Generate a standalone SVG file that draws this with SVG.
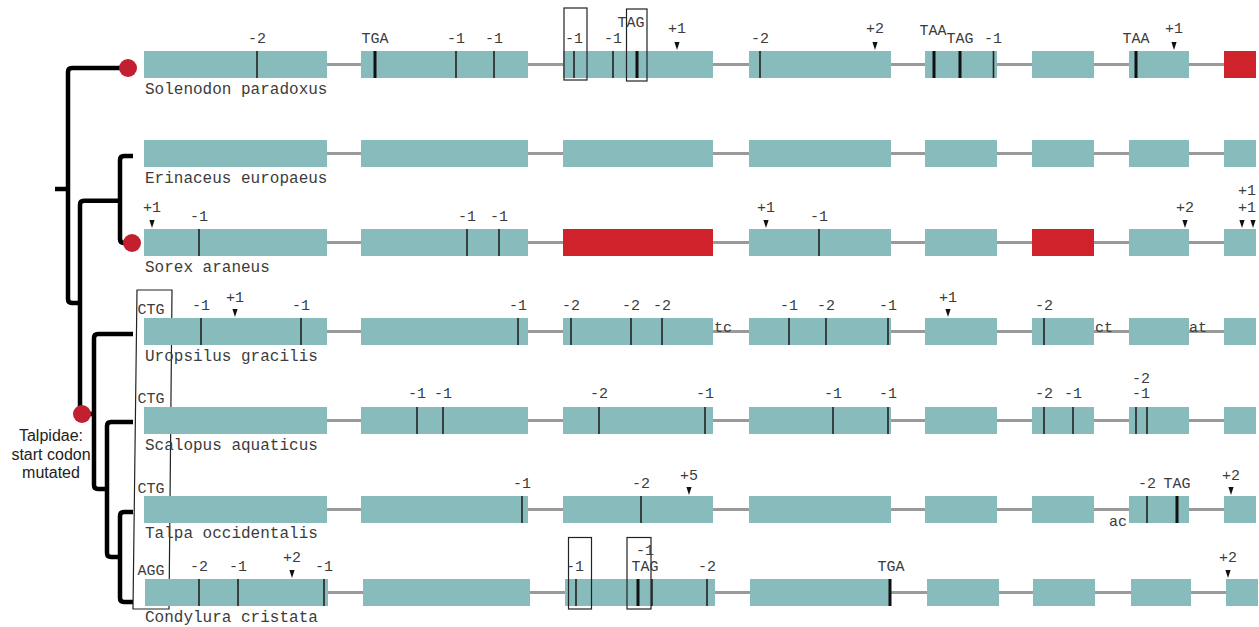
<svg xmlns="http://www.w3.org/2000/svg" width="1259" height="627" viewBox="0 0 1259 627">
<style>
.ex{fill:#88BBBB}
.rd{fill:#D0222B}
.in{stroke:#9a9a9a;stroke-width:3}
.fs{stroke:#222;stroke-width:1.6}
.st{stroke:#111;stroke-width:3}
.tri{fill:#111}
.lb{font-family:"Liberation Mono",monospace;font-size:15px;fill:#3c3c3c;text-anchor:middle}
.ls{font-family:"Liberation Mono",monospace;font-size:15px;fill:#3c3c3c}
.sp{font-family:"Liberation Mono",monospace;font-size:16px;fill:#3c3c3c}
.bx{fill:none;stroke:#222;stroke-width:1.2}
.tr{fill:none;stroke:#000;stroke-width:4.5}
.nd{fill:#C21F30}
.tl{font-family:"Liberation Sans",Arial,sans-serif;font-size:16px;fill:#222;text-anchor:middle}
</style>
<defs>
<polygon id="tri" points="-2.6,-9 2.6,-9 0,-1" class="tri"/>
</defs>
<rect width="1259" height="627" fill="#fff"/>

<g id="connectors">
<path class="tr" d="M128,68 H72 Q68,68 68,72 V299 Q68,303 72,303 H80"/>
<path class="tr" d="M55,189 H68"/>
<path class="tr" d="M120,200.7 H84 Q80,200.7 80,204.7 V414 M80,414 H94"/>
<path class="tr" d="M133,156 H124 Q120,156 120,160 V239 Q120,243 124,243 H132"/>
<path class="tr" d="M133,334 H98 Q94,334 94,338 V485 Q94,489 98,489 H107"/>
<path class="tr" d="M133,422 H111 Q107,422 107,426 V553 Q107,557 111,557 H120"/>
<path class="tr" d="M133,512 H124 Q120,512 120,516 V598 Q120,602 124,602 H133"/>
<circle class="nd" cx="128" cy="68" r="9"/>
<circle class="nd" cx="132" cy="243" r="9"/>
<circle class="nd" cx="82" cy="414" r="9"/>
</g>

<g id="talpidae-note">
<text class="tl" x="51" y="441">Talpidae:</text>
<text class="tl" x="51" y="459.5">start codon</text>
<text class="tl" x="51" y="478">mutated</text>
</g>

<g id="start-box"><polygon class="bx" points="137,290 172,290 169,609 133,609"/></g>

<!-- Row 1 Solenodon -->
<g id="solenodon">
<g class="in"><line x1="327" y1="64.5" x2="361" y2="64.5"/><line x1="528" y1="64.5" x2="563" y2="64.5"/><line x1="713" y1="64.5" x2="749" y2="64.5"/><line x1="891" y1="64.5" x2="925" y2="64.5"/><line x1="997" y1="64.5" x2="1032" y2="64.5"/><line x1="1094" y1="64.5" x2="1129" y2="64.5"/><line x1="1189" y1="64.5" x2="1224" y2="64.5"/></g>
<rect class="ex" x="144" y="51" width="183" height="27"/><rect class="ex" x="361" y="51" width="167" height="27"/><rect class="ex" x="563" y="51" width="150" height="27"/><rect class="ex" x="749" y="51" width="142" height="27"/><rect class="ex" x="925" y="51" width="72" height="27"/><rect class="ex" x="1032" y="51" width="62" height="27"/><rect class="ex" x="1129" y="51" width="60" height="27"/><rect class="rd" x="1224" y="51" width="32" height="27"/>
<g class="fs"><line x1="257" y1="51" x2="257" y2="78"/><line x1="456" y1="51" x2="456" y2="78"/><line x1="494" y1="51" x2="494" y2="78"/><line x1="574" y1="51" x2="574" y2="78"/><line x1="613" y1="51" x2="613" y2="78"/><line x1="760" y1="51" x2="760" y2="78"/><line x1="993.5" y1="51" x2="993.5" y2="78"/></g>
<g class="st"><line x1="375" y1="51" x2="375" y2="78"/><line x1="637" y1="51" x2="637" y2="78"/><line x1="934" y1="51" x2="934" y2="78"/><line x1="960" y1="51" x2="960" y2="78"/><line x1="1136" y1="51" x2="1136" y2="78"/></g>
<use href="#tri" x="677" y="51"/><use href="#tri" x="875" y="51"/><use href="#tri" x="1174" y="51"/>
<rect class="bx" x="564" y="8" width="23" height="72"/><rect class="bx" x="626.5" y="9" width="20.5" height="72"/>
<text class="lb" x="257" y="43">-2</text><text class="lb" x="375" y="43">TGA</text><text class="lb" x="456" y="43">-1</text><text class="lb" x="494" y="43">-1</text><text class="lb" x="574" y="43">-1</text><text class="lb" x="613" y="43">-1</text><text class="lb" x="631" y="27">TAG</text><text class="lb" x="677" y="33">+1</text><text class="lb" x="760" y="43">-2</text><text class="lb" x="875" y="33">+2</text><text class="lb" x="933" y="35">TAA</text><text class="lb" x="960" y="43">TAG</text><text class="lb" x="993" y="43">-1</text><text class="lb" x="1136" y="43">TAA</text><text class="lb" x="1174" y="33">+1</text>
<text class="sp" x="145" y="94">Solenodon paradoxus</text>
</g>

<!-- Row 2 Erinaceus -->
<g id="erinaceus">
<g class="in"><line x1="327" y1="153.5" x2="361" y2="153.5"/><line x1="528" y1="153.5" x2="563" y2="153.5"/><line x1="713" y1="153.5" x2="749" y2="153.5"/><line x1="891" y1="153.5" x2="925" y2="153.5"/><line x1="997" y1="153.5" x2="1032" y2="153.5"/><line x1="1094" y1="153.5" x2="1129" y2="153.5"/><line x1="1189" y1="153.5" x2="1224" y2="153.5"/></g>
<rect class="ex" x="144" y="140" width="183" height="27"/><rect class="ex" x="361" y="140" width="167" height="27"/><rect class="ex" x="563" y="140" width="150" height="27"/><rect class="ex" x="749" y="140" width="142" height="27"/><rect class="ex" x="925" y="140" width="72" height="27"/><rect class="ex" x="1032" y="140" width="62" height="27"/><rect class="ex" x="1129" y="140" width="60" height="27"/><rect class="ex" x="1224" y="140" width="32" height="27"/>
<text class="sp" x="145" y="183">Erinaceus europaeus</text>
</g>

<!-- Row 3 Sorex -->
<g id="sorex">
<g class="in"><line x1="327" y1="242.5" x2="361" y2="242.5"/><line x1="528" y1="242.5" x2="563" y2="242.5"/><line x1="713" y1="242.5" x2="749" y2="242.5"/><line x1="891" y1="242.5" x2="925" y2="242.5"/><line x1="997" y1="242.5" x2="1032" y2="242.5"/><line x1="1094" y1="242.5" x2="1129" y2="242.5"/><line x1="1189" y1="242.5" x2="1224" y2="242.5"/></g>
<rect class="ex" x="144" y="229" width="183" height="27"/><rect class="ex" x="361" y="229" width="167" height="27"/><rect class="rd" x="563" y="229" width="150" height="27"/><rect class="ex" x="749" y="229" width="142" height="27"/><rect class="ex" x="925" y="229" width="72" height="27"/><rect class="rd" x="1032" y="229" width="62" height="27"/><rect class="ex" x="1129" y="229" width="60" height="27"/><rect class="ex" x="1224" y="229" width="32" height="27"/>
<g class="fs"><line x1="199" y1="229" x2="199" y2="256"/><line x1="467" y1="229" x2="467" y2="256"/><line x1="499" y1="229" x2="499" y2="256"/><line x1="819" y1="229" x2="819" y2="256"/></g>
<use href="#tri" x="152" y="229"/><use href="#tri" x="766" y="229"/><use href="#tri" x="1185" y="229"/><use href="#tri" x="1242" y="229"/><use href="#tri" x="1253" y="229"/>
<text class="lb" x="152" y="212">+1</text><text class="lb" x="199" y="221">-1</text><text class="lb" x="467" y="221">-1</text><text class="lb" x="499" y="221">-1</text><text class="lb" x="766" y="212">+1</text><text class="lb" x="819" y="221">-1</text><text class="lb" x="1185" y="212">+2</text><text class="lb" x="1247" y="195">+1</text><text class="lb" x="1247" y="212">+1</text>
<text class="sp" x="145" y="272">Sorex araneus</text>
</g>

<!-- Row 4 Uropsilus -->
<g id="uropsilus">
<g class="in"><line x1="327" y1="331.5" x2="361" y2="331.5"/><line x1="528" y1="331.5" x2="563" y2="331.5"/><line x1="713" y1="331.5" x2="749" y2="331.5"/><line x1="891" y1="331.5" x2="925" y2="331.5"/><line x1="997" y1="331.5" x2="1032" y2="331.5"/><line x1="1094" y1="331.5" x2="1129" y2="331.5"/><line x1="1189" y1="331.5" x2="1224" y2="331.5"/></g>
<rect class="ex" x="144" y="318" width="183" height="27"/><rect class="ex" x="361" y="318" width="167" height="27"/><rect class="ex" x="563" y="318" width="150" height="27"/><rect class="ex" x="749" y="318" width="142" height="27"/><rect class="ex" x="925" y="318" width="72" height="27"/><rect class="ex" x="1032" y="318" width="62" height="27"/><rect class="ex" x="1129" y="318" width="60" height="27"/><rect class="ex" x="1224" y="318" width="32" height="27"/>
<g class="fs"><line x1="201" y1="318" x2="201" y2="345"/><line x1="301" y1="318" x2="301" y2="345"/><line x1="518" y1="318" x2="518" y2="345"/><line x1="571" y1="318" x2="571" y2="345"/><line x1="631" y1="318" x2="631" y2="345"/><line x1="662" y1="318" x2="662" y2="345"/><line x1="789" y1="318" x2="789" y2="345"/><line x1="826" y1="318" x2="826" y2="345"/><line x1="888" y1="318" x2="888" y2="345"/><line x1="1044" y1="318" x2="1044" y2="345"/></g>
<use href="#tri" x="235" y="318"/><use href="#tri" x="948" y="318"/>
<text class="lb" x="151" y="314">CTG</text>
<text class="lb" x="201" y="310">-1</text><text class="lb" x="235" y="302">+1</text><text class="lb" x="301" y="310">-1</text><text class="lb" x="518" y="310">-1</text><text class="lb" x="571" y="310">-2</text><text class="lb" x="631" y="310">-2</text><text class="lb" x="662" y="310">-2</text><text class="lb" x="789" y="310">-1</text><text class="lb" x="826" y="310">-2</text><text class="lb" x="888" y="310">-1</text><text class="lb" x="948" y="302">+1</text><text class="lb" x="1044" y="310">-2</text>
<text class="ls" x="714" y="332">tc</text><text class="ls" x="1095" y="332">ct</text><text class="ls" x="1189" y="332">at</text>
<text class="sp" x="145" y="361">Uropsilus gracilis</text>
</g>

<!-- Row 5 Scalopus -->
<g id="scalopus">
<g class="in"><line x1="327" y1="420.5" x2="361" y2="420.5"/><line x1="528" y1="420.5" x2="563" y2="420.5"/><line x1="713" y1="420.5" x2="749" y2="420.5"/><line x1="891" y1="420.5" x2="925" y2="420.5"/><line x1="997" y1="420.5" x2="1032" y2="420.5"/><line x1="1094" y1="420.5" x2="1129" y2="420.5"/><line x1="1189" y1="420.5" x2="1224" y2="420.5"/></g>
<rect class="ex" x="144" y="407" width="183" height="27"/><rect class="ex" x="361" y="407" width="167" height="27"/><rect class="ex" x="563" y="407" width="150" height="27"/><rect class="ex" x="749" y="407" width="142" height="27"/><rect class="ex" x="925" y="407" width="72" height="27"/><rect class="ex" x="1032" y="407" width="62" height="27"/><rect class="ex" x="1129" y="407" width="60" height="27"/><rect class="ex" x="1224" y="407" width="32" height="27"/>
<g class="fs"><line x1="417" y1="407" x2="417" y2="434"/><line x1="443" y1="407" x2="443" y2="434"/><line x1="599" y1="407" x2="599" y2="434"/><line x1="705" y1="407" x2="705" y2="434"/><line x1="833" y1="407" x2="833" y2="434"/><line x1="888" y1="407" x2="888" y2="434"/><line x1="1044" y1="407" x2="1044" y2="434"/><line x1="1073" y1="407" x2="1073" y2="434"/><line x1="1136" y1="407" x2="1136" y2="434"/><line x1="1147" y1="407" x2="1147" y2="434"/></g>
<text class="lb" x="151" y="403">CTG</text>
<text class="lb" x="417" y="398">-1</text><text class="lb" x="443" y="398">-1</text><text class="lb" x="599" y="398">-2</text><text class="lb" x="705" y="398">-1</text><text class="lb" x="833" y="398">-1</text><text class="lb" x="888" y="398">-1</text><text class="lb" x="1044" y="398">-2</text><text class="lb" x="1073" y="398">-1</text><text class="lb" x="1141" y="383">-2</text><text class="lb" x="1141" y="398">-1</text>
<text class="sp" x="145" y="450">Scalopus aquaticus</text>
</g>

<!-- Row 6 Talpa -->
<g id="talpa">
<g class="in"><line x1="327" y1="509.5" x2="361" y2="509.5"/><line x1="528" y1="509.5" x2="563" y2="509.5"/><line x1="713" y1="509.5" x2="749" y2="509.5"/><line x1="891" y1="509.5" x2="925" y2="509.5"/><line x1="997" y1="509.5" x2="1032" y2="509.5"/><line x1="1094" y1="509.5" x2="1129" y2="509.5"/><line x1="1189" y1="509.5" x2="1224" y2="509.5"/></g>
<rect class="ex" x="144" y="496" width="183" height="27"/><rect class="ex" x="361" y="496" width="167" height="27"/><rect class="ex" x="563" y="496" width="150" height="27"/><rect class="ex" x="749" y="496" width="142" height="27"/><rect class="ex" x="925" y="496" width="72" height="27"/><rect class="ex" x="1032" y="496" width="62" height="27"/><rect class="ex" x="1129" y="496" width="60" height="27"/><rect class="ex" x="1224" y="496" width="32" height="27"/>
<g class="fs"><line x1="522" y1="496" x2="522" y2="523"/><line x1="641" y1="496" x2="641" y2="523"/><line x1="1147" y1="496" x2="1147" y2="523"/></g>
<g class="st"><line x1="1177" y1="496" x2="1177" y2="523"/></g>
<use href="#tri" x="689" y="496"/><use href="#tri" x="1231" y="496"/>
<text class="lb" x="151" y="493">CTG</text>
<text class="lb" x="522" y="488">-1</text><text class="lb" x="641" y="488">-2</text><text class="lb" x="689" y="480">+5</text><text class="lb" x="1147" y="488">-2</text><text class="lb" x="1177" y="488">TAG</text><text class="lb" x="1231" y="480">+2</text>
<text class="ls" x="1109" y="526">ac</text>
<text class="sp" x="145" y="538">Talpa occidentalis</text>
</g>

<!-- Row 7 Condylura -->
<g id="condylura">
<g class="in"><line x1="328" y1="592.5" x2="363" y2="592.5"/><line x1="530" y1="592.5" x2="565" y2="592.5"/><line x1="715" y1="592.5" x2="750" y2="592.5"/><line x1="891" y1="592.5" x2="927" y2="592.5"/><line x1="999" y1="592.5" x2="1033" y2="592.5"/><line x1="1095" y1="592.5" x2="1131" y2="592.5"/><line x1="1191" y1="592.5" x2="1226" y2="592.5"/></g>
<rect class="ex" x="145" y="579" width="183" height="27"/><rect class="ex" x="363" y="579" width="167" height="27"/><rect class="ex" x="565" y="579" width="150" height="27"/><rect class="ex" x="750" y="579" width="141" height="27"/><rect class="ex" x="927" y="579" width="72" height="27"/><rect class="ex" x="1033" y="579" width="62" height="27"/><rect class="ex" x="1131" y="579" width="60" height="27"/><rect class="ex" x="1226" y="579" width="32" height="27"/>
<g class="fs"><line x1="199" y1="579" x2="199" y2="606"/><line x1="238" y1="579" x2="238" y2="606"/><line x1="324" y1="579" x2="324" y2="606"/><line x1="576" y1="579" x2="576" y2="606"/><line x1="652" y1="579" x2="652" y2="606"/><line x1="707" y1="579" x2="707" y2="606"/></g>
<g class="st"><line x1="638" y1="579" x2="638" y2="606"/><line x1="890" y1="579" x2="890" y2="606"/></g>
<use href="#tri" x="292" y="579"/><use href="#tri" x="1228" y="579"/>
<rect class="bx" x="568.5" y="537.5" width="23" height="71.5"/><rect class="bx" x="627" y="537.5" width="24" height="71.5"/>
<text class="lb" x="151" y="575">AGG</text>
<text class="lb" x="199" y="571">-2</text><text class="lb" x="238" y="571">-1</text><text class="lb" x="292" y="562">+2</text><text class="lb" x="324" y="571">-1</text><text class="lb" x="575" y="571">-1</text><text class="lb" x="645" y="555">-1</text><text class="lb" x="645" y="571">TAG</text><text class="lb" x="707" y="571">-2</text><text class="lb" x="891" y="571">TGA</text><text class="lb" x="1228" y="562">+2</text>
<text class="sp" x="145" y="622">Condylura cristata</text>
</g>
</svg>
